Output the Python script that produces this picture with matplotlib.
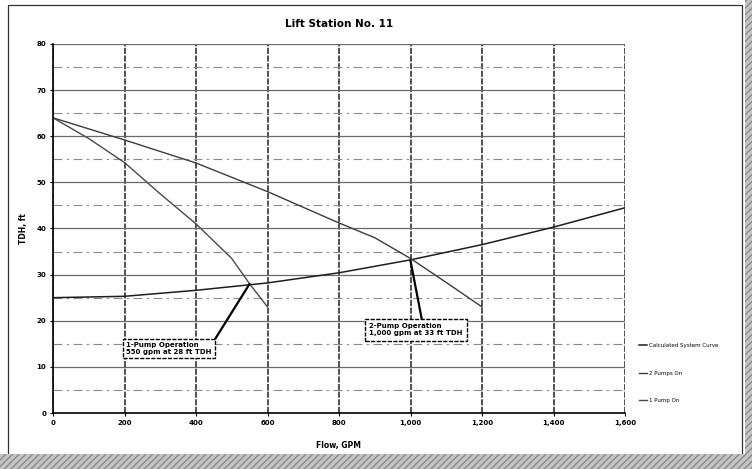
import matplotlib
matplotlib.use("Agg")
import matplotlib.pyplot as plt
from matplotlib.patches import Rectangle
from matplotlib.ticker import MultipleLocator, FuncFormatter

# ---- data ----
flow_system = [0, 200, 400, 600, 800, 1000, 1200, 1400, 1600]
head_system = [25.0, 25.3, 26.6, 28.2, 30.4, 33.2, 36.5, 40.3, 44.5]

flow_2pump = [0, 200, 400, 600, 800, 900, 1000, 1100, 1200]
head_2pump = [64.0, 59.2, 54.2, 48.0, 41.2, 38.0, 33.5, 28.3, 23.0]

flow_1pump = [0, 100, 200, 300, 400, 500, 550, 600]
head_1pump = [64.0, 59.5, 54.3, 47.5, 41.0, 33.5, 28.0, 23.0]

title = "Lift Station No. 11"
xlabel = "Flow, GPM"
ylabel = "TDH, ft"
labels = ["Calculated System Curve", "2 Pumps On", "1 Pump On"]
op1_point = (550, 28)
op1_text = "1-Pump Operation\n550 gpm at 28 ft TDH"
op2_point = (1000, 33)
op2_text = "2-Pump Operation\n1,000 gpm at 33 ft TDH"

# ---- figure ----
W, H = 752, 469
fig = plt.figure(figsize=(W / 100, H / 100), dpi=100)
fig.patch.set_facecolor("white")
ax = fig.add_axes([53 / W, 1 - 413 / H, (625 - 53) / W, (413 - 44) / H])

ax.set_xlim(0, 1600)
ax.set_ylim(0, 80)
ax.xaxis.set_major_locator(MultipleLocator(200))
ax.yaxis.set_major_locator(MultipleLocator(10))
ax.yaxis.set_minor_locator(MultipleLocator(5))
ax.xaxis.set_major_formatter(FuncFormatter(lambda v, p: f"{int(v):,}"))

ax.grid(True, axis="y", which="major", color="#6a6a6a", lw=0.9, ls="-")
ax.grid(True, axis="y", which="minor", color="#8a8a8a", lw=0.8, ls=(0, (8, 4, 2, 4)))
ax.grid(True, axis="x", which="major", color="#222222", lw=1.1, ls=(0, (4, 1)))
ax.set_axisbelow(True)

for s in ["top", "right"]:
    ax.spines[s].set_visible(False)
ax.spines["left"].set_color("black")
ax.spines["left"].set_linewidth(1.2)
ax.spines["bottom"].set_color("black")
ax.spines["bottom"].set_linewidth(1.2)

ax.tick_params(axis="both", which="major", labelsize=5, length=2, width=0.8, pad=3, colors="black")
ax.tick_params(axis="y", which="minor", length=0)
for t in ax.get_xticklabels() + ax.get_yticklabels():
    t.set_fontweight("bold")

l_sys, = ax.plot(flow_system, head_system, color="#1e1e1e", lw=1.1, label=labels[0])
l_2p, = ax.plot(flow_2pump, head_2pump, color="#3c3c3c", lw=1.0, label=labels[1])
l_1p, = ax.plot(flow_1pump, head_1pump, color="#4a4a4a", lw=1.0, label=labels[2])

ax.set_title(title, fontsize=7.5, fontweight="bold", pad=12)
ax.set_xlabel(xlabel, fontsize=5.5, fontweight="bold", labelpad=11)
ax.set_ylabel(ylabel, fontsize=5.5, fontweight="bold", labelpad=6)

bbox = dict(boxstyle="square,pad=0.45", fc="white", ec="black", lw=1.0, ls=(0, (3, 1)))
ax.annotate(op1_text, xy=op1_point, xytext=(205, 14), textcoords="data",
            fontsize=5.0, fontweight="bold", ha="left", va="center", bbox=bbox,
            arrowprops=dict(arrowstyle="-", color="black", lw=1.6, relpos=(1.0, 0.8),
                            shrinkA=0, shrinkB=0))
ax.annotate(op2_text, xy=op2_point, xytext=(885, 18), textcoords="data",
            fontsize=5.0, fontweight="bold", ha="left", va="center",
            bbox=dict(boxstyle="square,pad=0.6", fc="white", ec="black", lw=1.0, ls=(0, (3, 1))),
            arrowprops=dict(arrowstyle="-", color="black", lw=1.6, relpos=(0.57, 1.0),
                            shrinkA=0, shrinkB=0))

leg = ax.legend(handles=[l_sys, l_2p, l_1p], loc="center left",
                bbox_to_anchor=(1.02, 0.108), frameon=False, fontsize=4.0,
                labelspacing=4.0, handlelength=1.4, handletextpad=0.4, borderpad=0)

# chart frame and scan edge strips
fig.add_artist(Rectangle((8 / W, 1 - 455 / H), (742 - 8) / W, (455 - 5) / H,
                         transform=fig.transFigure, fill=False, ec="#333333", lw=0.9))
fig.add_artist(Rectangle((0, 0), 1, 15 / H, transform=fig.transFigure,
                         fc="#c4c4c4", ec="#8a8a8a", lw=0, hatch="/////"))
fig.add_artist(Rectangle((745 / W, 0), 7 / W, 1, transform=fig.transFigure,
                         fc="#c4c4c4", ec="#8a8a8a", lw=0, hatch="/////"))

fig.savefig("out.png", dpi=100, facecolor="white")
